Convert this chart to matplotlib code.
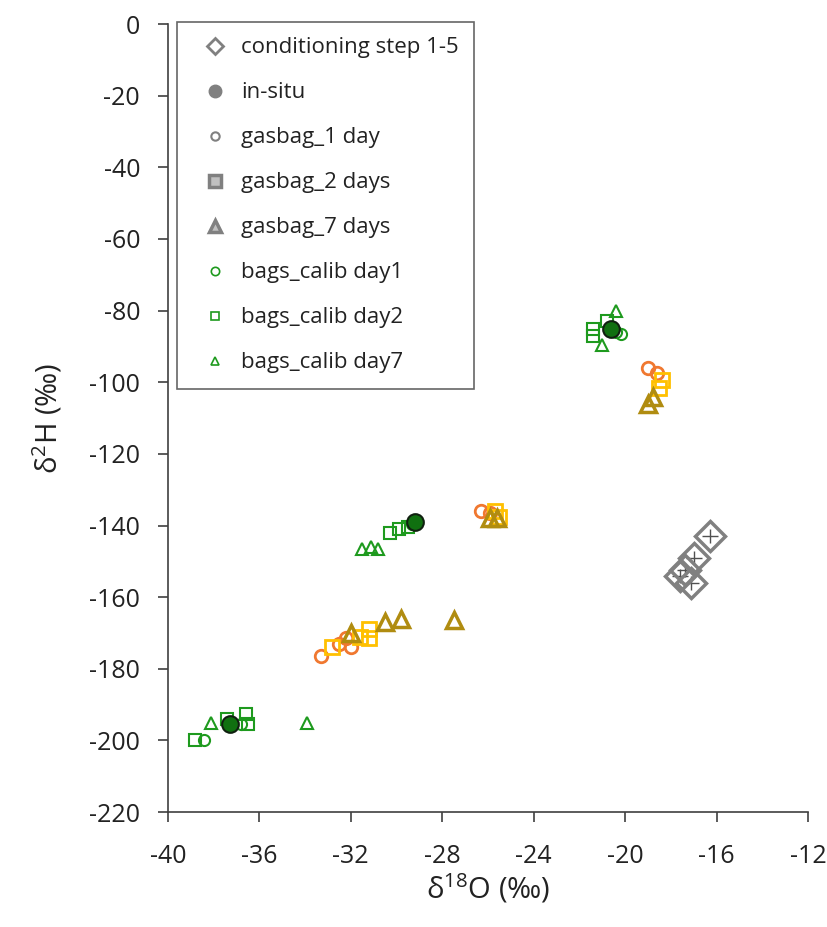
import matplotlib.pyplot as plt
from matplotlib.lines import Line2D

plt.rcParams['font.family'] = ['Open Sans', 'DejaVu Sans']
plt.rcParams['mathtext.default'] = 'regular'
plt.rcParams['axes.unicode_minus'] = False

# conditioning steps (diamonds with error bars)
cond_x = [-16.3, -17.0, -17.6, -17.1, -17.4]
cond_y = [-143, -149, -154, -156, -152.5]
cond_xerr = 0.35
cond_yerr = 2.0

in_situ_x = [-20.6, -29.2, -37.3]
in_situ_y = [-85, -139, -195.5]

gb1_x = [-19.0, -18.6, -26.3, -25.9, -33.3, -32.5, -32.0, -32.2]
gb1_y = [-96, -97.5, -136, -136.5, -176.5, -173, -174, -171.5]

gb2_x = [-18.4, -18.5, -25.7, -25.5, -32.8, -31.2, -31.2, -31.6]
gb2_y = [-99.5, -101.5, -136, -137.5, -174, -169, -171.5, -171.0]

gb7_x = [-18.8, -19.0, -25.6, -25.9, -32.0, -30.5, -29.8, -27.5]
gb7_y = [-104, -106, -138, -138, -170, -167, -166, -166.5]

cal1_x = [-20.2, -20.4, -29.3, -38.4, -36.8]
cal1_y = [-86.5, -86, -139.5, -200, -195.5]

cal2_x = [-21.4, -21.4, -20.8, -30.3, -29.9, -29.5, -38.8, -37.4, -36.6, -36.5]
cal2_y = [-85, -87, -83, -142, -141, -140.5, -200, -194, -192.5, -195.5]

cal7_x = [-20.4, -21.0, -31.5, -31.1, -30.8, -38.1, -33.9]
cal7_y = [-80, -89.5, -146.5, -146, -146.5, -195, -195]

labels = ['conditioning step 1-5', 'in-situ', 'gasbag_1 day', 'gasbag_2 days',
          'gasbag_7 days', 'bags_calib day1', 'bags_calib day2', 'bags_calib day7']

green = '#1e9a1e'
fig = plt.figure(figsize=(8.27, 9.27), dpi=100)
ax = fig.add_axes([0.203, 0.124, 0.774, 0.850])

ax.errorbar(cond_x, cond_y, xerr=cond_xerr, yerr=cond_yerr, fmt='D', ms=15,
            mfc='none', mec='#808080', mew=2.5, ecolor='#505050', elinewidth=1,
            capsize=0, zorder=3)
ax.plot(gb1_x, gb1_y, 'o', ms=9, mfc='none', mec='#f07830', mew=2, zorder=3)
ax.plot(gb2_x, gb2_y, 's', ms=10, mfc='none', mec='#ffc000', mew=2, zorder=3)
ax.plot(gb7_x, gb7_y, '^', ms=11, mfc='none', mec='#b08c10', mew=2.5, zorder=3)
ax.plot(cal1_x, cal1_y, 'o', ms=8, mfc='none', mec=green, mew=1.5, zorder=4)
ax.plot(cal2_x, cal2_y, 's', ms=8, mfc='none', mec=green, mew=1.5, zorder=4)
ax.plot(cal7_x, cal7_y, '^', ms=8, mfc='none', mec=green, mew=1.5, zorder=4)
ax.plot(in_situ_x, in_situ_y, 'o', ms=12, mfc='#107010', mec='#102010', mew=1.5, zorder=5)

ax.set_xlim(-40, -12)
ax.set_ylim(-220, 0)
ax.set_xticks(range(-40, -11, 4))
ax.set_yticks(range(-220, 1, 20))
ax.spines['top'].set_visible(False)
ax.spines['right'].set_visible(False)
for s in ['left', 'bottom']:
    ax.spines[s].set_color('#404040')
    ax.spines[s].set_linewidth(1.2)
ax.tick_params(direction='out', length=7, width=1.2, color='#404040',
               labelsize=18, labelcolor='#222222')
ax.tick_params(axis='x', pad=16)
ax.tick_params(axis='y', pad=13)
ax.set_xlabel('δ$^{18}$O (‰)', fontsize=21, color='#222222', labelpad=2)
ax.set_ylabel('δ$^{2}$H (‰)', fontsize=21, color='#222222', labelpad=18)

gray = '#808080'
handles = [
    Line2D([], [], ls='none', marker='D', ms=8, mfc='white', mec=gray, mew=2),
    Line2D([], [], ls='none', marker='o', ms=9, mfc=gray, mec=gray),
    Line2D([], [], ls='none', marker='o', ms=6, mfc='white', mec=gray, mew=1.5),
    Line2D([], [], ls='none', marker='s', ms=8, mfc='#c0c0c0', mec=gray, mew=2.5),
    Line2D([], [], ls='none', marker='^', ms=9, mfc='#c0c0c0', mec=gray, mew=2.5),
    Line2D([], [], ls='none', marker='o', ms=6, mfc='none', mec=green, mew=1.2),
    Line2D([], [], ls='none', marker='s', ms=6, mfc='none', mec=green, mew=1.2),
    Line2D([], [], ls='none', marker='^', ms=6, mfc='none', mec=green, mew=1.2),
]
leg = ax.legend(handles, labels, loc='upper left', bbox_to_anchor=(0.015, 1.003),
                borderaxespad=0, fontsize=16, frameon=True, fancybox=False,
                edgecolor='#404040', labelspacing=1.08, handletextpad=0.15,
                borderpad=0.7, handlelength=2.0, labelcolor='#222222')
leg.get_frame().set_linewidth(1.2)

fig.savefig('out.png', dpi=100)
